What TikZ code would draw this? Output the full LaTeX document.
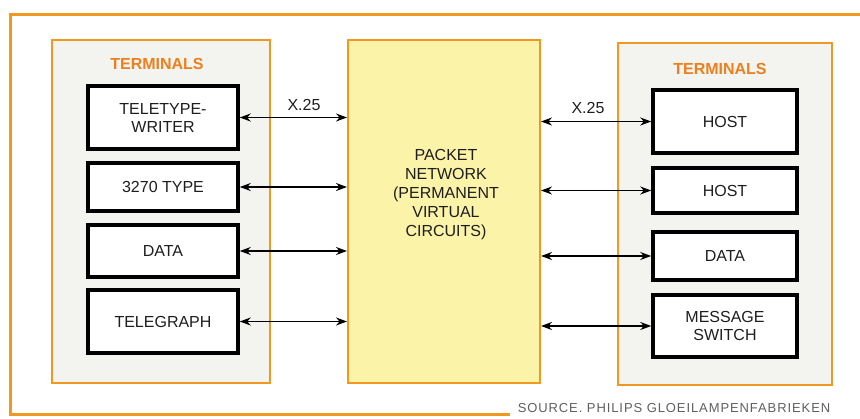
\documentclass[tikz,border=0pt]{standalone}
\usepackage{fontspec}
\setmainfont{Liberation Sans}
\usepackage{xcolor}
\usepackage{tikz}
\usetikzlibrary{arrows.meta,positioning}
\definecolor{frm}{RGB}{240,152,32}
\definecolor{hdc}{RGB}{236,128,28}
\definecolor{pnl}{RGB}{243,243,239}
\definecolor{pkt}{RGB}{251,243,168}
\definecolor{src}{RGB}{95,95,95}
\definecolor{ink}{RGB}{30,30,30}
\tikzset{
  panel/.style={draw=frm,fill=pnl,line width=2pt,inner sep=0pt},
  net/.style={draw=frm,fill=pkt,line width=2pt,inner sep=0pt,align=center,text=ink,font=\fontsize{16}{19}\selectfont},
  term/.style={draw=black,fill=white,line width=3.5pt,inner sep=0pt,align=center,text=ink,font=\fontsize{16}{18}\selectfont},
  hd/.style={text=hdc,font=\fontsize{16}{18}\selectfont\bfseries},
  lnk/.style={line width=1.6pt,{Stealth[length=11pt,width=8pt]}-{Stealth[length=11pt,width=8pt]}},
  lbl/.style={font=\fontsize{16}{18}\selectfont,inner sep=0pt,text=ink}
}

\begin{document}
\begin{tikzpicture}[x=1pt,y=-1pt]
\useasboundingbox (0,0) rectangle (860,418);
% outer frame
\draw[frm,line width=3pt] (510,414) -- (10,414) -- (10,14) -- (860,14);
% panels
\node[panel,minimum width=218pt,minimum height=343pt] (lp) at (161,211.5) {};
\node[net,minimum width=192pt,minimum height=343pt] (pn) at (444,211.5) {};
\node[net,draw=none,fill=none] (pt) at (446,195) {PACKET\\NETWORK\\(PERMANENT\\VIRTUAL\\CIRCUITS)};
\node[panel,minimum width=214pt,minimum height=342pt] (rp) at (725,214) {};
\node[hd] (lh) at (157,64) {TERMINALS};
\node[hd] (rh) at (720,69) {TERMINALS};
% left terminals
\node[term,minimum width=150pt,minimum height=63pt] (l1) at (163,117.5) {TELETYPE-\\WRITER};
\node[term,minimum width=150pt,minimum height=48pt] (l2) at (163,187) {3270 TYPE};
\node[term,minimum width=150pt,minimum height=52pt] (l3) at (163,251) {DATA};
\node[term,minimum width=150pt,minimum height=63pt] (l4) at (163,321.5) {TELEGRAPH};
% right terminals
\node[term,minimum width=144pt,minimum height=63pt] (r1) at (725,121.5) {HOST};
\node[term,minimum width=144pt,minimum height=45pt] (r2) at (725,190.5) {HOST};
\node[term,minimum width=144pt,minimum height=48pt] (r3) at (725,256) {DATA};
\node[term,minimum width=144pt,minimum height=62pt] (r4) at (725,326) {MESSAGE\\SWITCH};
% links
\foreach \t in {l1,l2,l3,l4}
  \draw[lnk] (\t.east) -- (\t.east -| pn.west);
\foreach \t in {r1,r2,r3,r4}
  \draw[lnk] (\t.west -| pn.east) -- (\t.west);
\node[lbl] (xl) at (304,105) {X.25};
\node[lbl] (xr) at (588,108) {X.25};
\node[text=src,inner sep=0pt,font=\fontsize{13}{15}\selectfont\addfontfeature{LetterSpace=7}] (so) at (674,408) {SOURCE. PHILIPS GLOEILAMPENFABRIEKEN};
\end{tikzpicture}
\end{document}
